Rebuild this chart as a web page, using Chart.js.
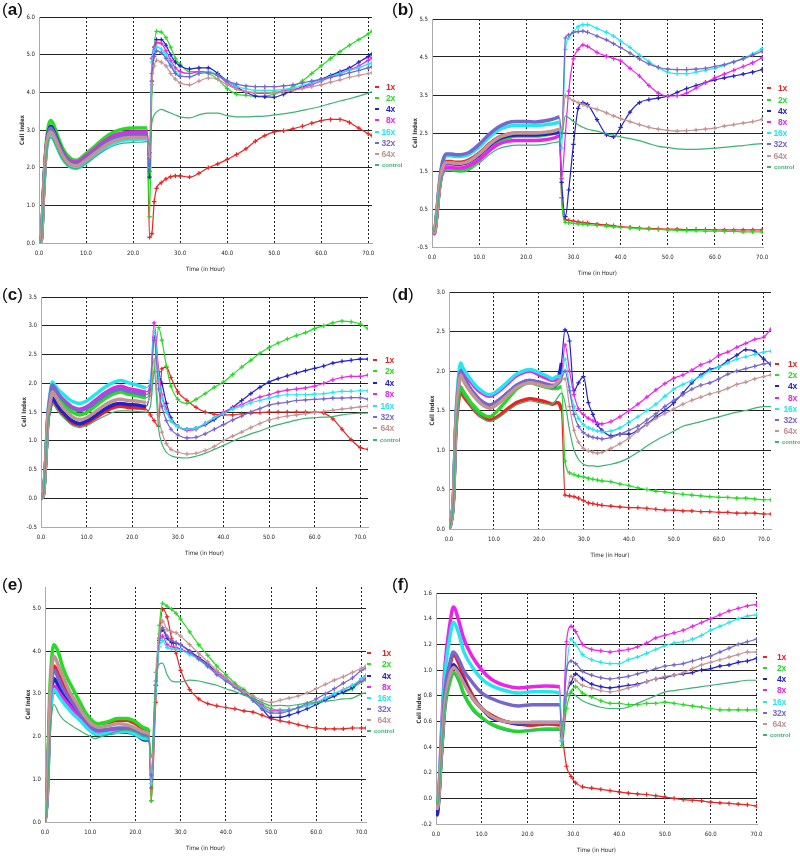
<!DOCTYPE html>
<html lang="en">
<head>
<meta charset="UTF-8">
<title>Cell Index over time</title>
<script src="https://cdn.jsdelivr.net/npm/chart.js"></script>
<style>
  body { margin: 0; background: #fff; width: 800px; height: 858px; position: relative; overflow: hidden; font-family: Arial, "Liberation Sans", sans-serif; }
  canvas { position: absolute; }
  .tag { position: absolute; font-size: 17px; line-height: 20px; color: #111; }
  .item { position: absolute; height: 12px; display: flex; align-items: center; justify-content: space-between; font-weight: bold; font-size: 8.5px; line-height: 12px; letter-spacing: -0.2px; }
  .item i { display: block; width: 4px; height: 2px; flex: none; }
  .item.ctl { justify-content: flex-start; font-size: 6px; letter-spacing: 0; }
  .item.ctl i { margin-right: 3px; }
</style>
</head>
<body>
<script>
const seriesNames = ['1x', '2x', '4x', '8x', '16x', '32x', '64x', 'control'];
const seriesColors = ['#ee2222', '#22dd22', '#2222cc', '#ee22ee', '#22e8ee', '#7766cc', '#c49494', '#3cb371'];

// ---- (a) ----
const timeA = [0,0.5,1,1.5,2,2.5,3,4,5,6,7,8,10,12,14,16,18,20,22,23,
  23.5,24,24.5,25,26,27,28,29,30,32,34,36,38,40,42,44,46,48,50,52,54,56,58,60,62,64,66,68,70,70.8];
const a1x = [0,0.1,1.4,2.45,2.85,2.95,2.88,2.61,2.36,2.2,2.12,2.1,2.25,2.44,2.62,2.76,2.83,2.85,2.85,2.85,
  0.15,0.25,1.1,1.45,1.6,1.7,1.76,1.78,1.78,1.75,1.85,2.0,2.1,2.22,2.35,2.5,2.7,2.85,2.95,2.98,3.03,3.1,3.18,3.25,3.28,3.28,3.2,3.05,2.9,2.85];
const a2x = [0,0.1,1.5,2.6,3.1,3.25,3.17,2.83,2.52,2.33,2.22,2.2,2.37,2.58,2.8,2.95,3.03,3.05,3.05,3.05,
  0.7,4.0,5.2,5.62,5.6,5.45,5.2,4.9,4.75,4.55,4.55,4.5,4.35,4.1,3.95,3.92,3.9,3.9,3.95,4.03,4.15,4.3,4.5,4.7,4.9,5.08,5.25,5.4,5.55,5.62];
const a4x = [0,0.1,1.5,2.5,2.95,3.1,3.02,2.71,2.42,2.24,2.14,2.12,2.28,2.47,2.67,2.81,2.88,2.9,2.9,2.9,
  1.75,4.3,5.0,5.4,5.4,5.25,5.0,4.8,4.7,4.62,4.65,4.65,4.5,4.3,4.15,4.0,3.9,3.88,3.87,3.95,4.05,4.15,4.25,4.35,4.45,4.55,4.65,4.8,4.95,5.02];
const a8x = [0,0.1,1.45,2.45,2.88,3.0,2.93,2.66,2.41,2.25,2.17,2.15,2.31,2.51,2.71,2.86,2.93,2.95,2.95,2.95,
  2.4,4.9,5.2,5.32,5.3,5.1,4.85,4.65,4.55,4.5,4.55,4.55,4.45,4.25,4.1,4.02,3.98,3.97,4.0,4.03,4.08,4.12,4.2,4.3,4.4,4.5,4.6,4.7,4.85,4.92];
const a16x = [0,0.1,1.35,2.35,2.75,2.85,2.78,2.5,2.24,2.08,2.0,1.98,2.13,2.33,2.52,2.66,2.73,2.75,2.76,2.76,
  2.0,4.8,5.1,5.2,5.15,5.0,4.75,4.55,4.45,4.4,4.5,4.55,4.45,4.3,4.15,4.1,4.05,4.05,4.05,4.08,4.12,4.18,4.25,4.33,4.42,4.5,4.58,4.65,4.75,4.78];
const a32x = [0,0.1,1.45,2.5,2.92,3.05,2.97,2.67,2.39,2.21,2.12,2.1,2.26,2.45,2.65,2.79,2.86,2.88,2.88,2.88,
  1.9,4.5,4.95,5.1,5.05,4.9,4.7,4.5,4.42,4.42,4.5,4.52,4.45,4.3,4.22,4.17,4.15,4.15,4.15,4.17,4.2,4.25,4.3,4.35,4.4,4.45,4.52,4.58,4.65,4.68];
const a64x = [0,0.1,1.4,2.45,2.85,2.95,2.88,2.59,2.32,2.15,2.07,2.05,2.2,2.39,2.58,2.71,2.78,2.8,2.8,2.8,
  2.3,4.2,4.7,4.85,4.8,4.7,4.5,4.35,4.25,4.2,4.3,4.38,4.35,4.2,4.08,4.02,4.0,4.0,4.0,4.02,4.05,4.1,4.15,4.2,4.27,4.33,4.4,4.45,4.5,4.52];
const aCtl = [0,0.1,1.3,2.3,2.7,2.8,2.73,2.46,2.22,2.06,1.99,1.97,2.11,2.29,2.46,2.59,2.65,2.67,2.68,2.69,
  2.6,3.2,3.4,3.48,3.55,3.5,3.45,3.4,3.35,3.32,3.4,3.45,3.45,3.38,3.35,3.35,3.36,3.37,3.4,3.43,3.47,3.52,3.57,3.63,3.7,3.77,3.83,3.9,3.98,4.02];

// ---- (b) ----
const timeB = [0,0.5,1,1.5,2,2.5,3,4,5,6,7,8,10,12,14,16,18,20,22,24,26,27,
  27.5,28.3,29,30,31,32,33,35,37,38.5,40,42,44,46,48,50,52,54,56,58,60,62,64,66,68,70];
const b1x = [0,-0.12,0.35,1.0,1.45,1.68,1.75,1.75,1.73,1.73,1.75,1.8,1.97,2.2,2.38,2.47,2.5,2.5,2.5,2.5,2.52,2.55,
  0.8,0.22,0.2,0.18,0.16,0.14,0.13,0.1,0.08,0.06,0.04,0.02,0.0,-0.01,-0.02,-0.03,-0.03,-0.04,-0.04,-0.04,-0.05,-0.05,-0.05,-0.05,-0.05,-0.05];
const b2x = [0,-0.15,0.3,0.95,1.35,1.5,1.55,1.55,1.53,1.52,1.54,1.6,1.78,2.02,2.23,2.36,2.42,2.42,2.42,2.45,2.5,2.55,
  0.8,0.15,0.14,0.12,0.11,0.1,0.09,0.07,0.05,0.03,0.02,0.0,-0.02,-0.03,-0.04,-0.05,-0.06,-0.07,-0.07,-0.08,-0.08,-0.09,-0.09,-0.1,-0.1,-0.1];
const b4x = [0,-0.12,0.35,1.0,1.42,1.63,1.7,1.7,1.68,1.68,1.7,1.75,1.92,2.15,2.33,2.42,2.45,2.45,2.45,2.47,2.5,2.52,
  1.2,0.3,1.0,2.2,3.15,3.3,3.25,2.85,2.45,2.4,2.65,3.05,3.3,3.38,3.42,3.47,3.57,3.67,3.75,3.83,3.9,3.95,4.0,4.05,4.1,4.17];
const b8x = [0,-0.15,0.3,0.95,1.38,1.55,1.6,1.6,1.58,1.58,1.6,1.65,1.8,2.02,2.2,2.28,2.3,2.3,2.3,2.32,2.37,2.42,
  1.3,2.5,3.6,4.45,4.7,4.82,4.78,4.62,4.52,4.46,4.4,4.2,4.0,3.75,3.55,3.47,3.48,3.55,3.68,3.82,3.95,4.05,4.15,4.25,4.35,4.48];
const b16x = [0,-0.1,0.4,1.05,1.55,1.8,1.9,1.9,1.88,1.88,1.9,1.95,2.13,2.37,2.57,2.67,2.7,2.7,2.69,2.72,2.75,2.78,
  2.1,4.7,5.0,5.15,5.3,5.35,5.35,5.25,5.15,5.05,4.92,4.75,4.55,4.38,4.22,4.1,4.06,4.06,4.1,4.15,4.2,4.28,4.37,4.47,4.58,4.72];
const b32x = [0,-0.1,0.4,1.1,1.6,1.85,1.95,1.95,1.93,1.93,1.95,2.0,2.2,2.45,2.65,2.77,2.8,2.8,2.79,2.82,2.88,2.92,
  2.5,5.0,5.08,5.15,5.17,5.18,5.15,5.05,4.95,4.85,4.75,4.6,4.45,4.32,4.23,4.18,4.17,4.17,4.18,4.2,4.25,4.3,4.37,4.45,4.55,4.65];
const b64x = [0,-0.12,0.35,1.0,1.45,1.65,1.72,1.72,1.7,1.7,1.72,1.77,1.95,2.18,2.37,2.46,2.5,2.5,2.5,2.52,2.56,2.6,
  2.6,3.48,3.42,3.35,3.3,3.25,3.2,3.12,3.03,2.95,2.88,2.8,2.72,2.65,2.6,2.57,2.55,2.56,2.58,2.6,2.63,2.68,2.72,2.76,2.8,2.86];
const bCtl = [0,-0.1,0.3,0.9,1.3,1.45,1.5,1.5,1.48,1.47,1.48,1.53,1.7,1.92,2.08,2.15,2.18,2.18,2.18,2.2,2.25,2.28,
  2.4,2.95,2.9,2.8,2.72,2.65,2.6,2.55,2.48,2.44,2.4,2.35,2.3,2.22,2.15,2.12,2.08,2.07,2.07,2.08,2.1,2.12,2.15,2.17,2.2,2.22];

// ---- (c) ----
const timeC = [0,0.5,1,1.5,2,2.5,3,4,5,6,7,8.5,10,12,14,16,17.5,19,21,23,
  24,24.8,25.8,26.5,27.5,28.5,30,32,34,36,38,40,42,44,46,48,50,52,54,56,58,60,62,64,66,68,70,71.7];
const c1x = [0,0.05,0.6,1.33,1.55,1.7,1.65,1.53,1.44,1.36,1.3,1.27,1.3,1.4,1.5,1.58,1.6,1.58,1.57,1.55,
  1.45,1.35,1.25,2.25,2.28,2.1,1.85,1.7,1.58,1.5,1.46,1.45,1.45,1.47,1.48,1.49,1.5,1.5,1.5,1.5,1.5,1.5,1.48,1.38,1.2,1.02,0.88,0.85];
const c2x = [0,0.05,0.6,1.4,1.7,1.9,1.85,1.72,1.63,1.55,1.49,1.45,1.49,1.61,1.73,1.82,1.85,1.81,1.78,1.75,
  1.85,2.2,2.97,2.75,2.3,1.95,1.72,1.65,1.72,1.82,1.93,2.02,2.15,2.28,2.4,2.52,2.62,2.7,2.77,2.83,2.88,2.95,3.0,3.05,3.08,3.07,3.03,2.95];
const c4x = [0,0.05,0.6,1.35,1.58,1.75,1.7,1.57,1.48,1.4,1.34,1.3,1.34,1.44,1.55,1.63,1.65,1.63,1.62,1.6,
  1.9,2.8,2.2,2.0,1.65,1.4,1.25,1.2,1.22,1.28,1.37,1.47,1.58,1.7,1.82,1.93,2.02,2.08,2.13,2.18,2.22,2.26,2.3,2.35,2.38,2.4,2.42,2.42];
const c8x = [0,0.05,0.6,1.42,1.75,1.95,1.9,1.79,1.71,1.64,1.58,1.55,1.59,1.71,1.83,1.92,1.95,1.91,1.88,1.85,
  2.0,3.05,2.2,1.8,1.55,1.35,1.25,1.18,1.2,1.3,1.4,1.5,1.57,1.63,1.7,1.76,1.8,1.85,1.88,1.9,1.92,1.95,2.0,2.06,2.1,2.12,2.12,2.14];
const c16x = [0,0.05,0.6,1.45,1.82,2.02,1.97,1.87,1.8,1.73,1.68,1.65,1.69,1.81,1.93,2.02,2.05,2.01,1.97,1.92,
  2.05,2.9,2.1,1.75,1.5,1.35,1.25,1.2,1.22,1.3,1.4,1.47,1.55,1.6,1.66,1.7,1.74,1.78,1.8,1.8,1.8,1.81,1.82,1.84,1.86,1.86,1.87,1.87];
const c32x = [0,0.05,0.6,1.42,1.77,1.97,1.92,1.79,1.7,1.62,1.56,1.52,1.56,1.67,1.79,1.87,1.9,1.86,1.83,1.8,
  1.95,2.75,1.9,1.6,1.35,1.2,1.1,1.05,1.06,1.12,1.2,1.28,1.36,1.43,1.5,1.56,1.62,1.65,1.67,1.7,1.71,1.72,1.73,1.74,1.74,1.75,1.75,1.72];
const c64x = [0,0.05,0.6,1.38,1.65,1.85,1.8,1.66,1.56,1.48,1.41,1.37,1.4,1.51,1.62,1.7,1.72,1.7,1.69,1.67,
  1.8,2.4,1.45,1.15,0.95,0.85,0.8,0.77,0.78,0.83,0.9,1.0,1.08,1.15,1.23,1.3,1.36,1.4,1.43,1.45,1.47,1.49,1.51,1.53,1.55,1.57,1.59,1.6];
const cCtl = [0,0.05,0.6,1.3,1.5,1.65,1.6,1.48,1.4,1.32,1.26,1.23,1.26,1.35,1.43,1.5,1.52,1.52,1.51,1.5,
  1.6,2.2,1.2,0.95,0.8,0.74,0.71,0.7,0.73,0.78,0.85,0.92,0.99,1.06,1.12,1.17,1.23,1.28,1.32,1.36,1.39,1.4,1.41,1.42,1.45,1.47,1.48,1.48];

// ---- (d) ----
const timeD = [0,0.5,1,1.5,2,2.6,3,4,5,6,7,9,11,13,15,17,18,20,22,23,24,25,
  25.8,26.8,27.8,28.8,29.9,31,32,33,34,36,38,40,42,44,46,48,50,52,54,56,58,60,62,64,66,68,70,71.6];
const d1x = [0,0.1,0.35,1.2,1.55,1.75,1.7,1.62,1.55,1.48,1.43,1.38,1.43,1.52,1.6,1.64,1.65,1.63,1.6,1.58,1.6,1.5,
  0.43,0.42,0.41,0.39,0.36,0.33,0.32,0.31,0.3,0.29,0.28,0.27,0.27,0.26,0.25,0.24,0.24,0.23,0.23,0.22,0.22,0.21,0.21,0.2,0.2,0.2,0.19,0.19];
const d2x = [0,0.1,0.4,1.25,1.6,1.8,1.76,1.67,1.59,1.53,1.47,1.42,1.51,1.64,1.77,1.84,1.85,1.82,1.79,1.78,1.78,1.8,
  0.86,0.71,0.69,0.67,0.66,0.64,0.63,0.62,0.61,0.6,0.57,0.55,0.52,0.5,0.48,0.47,0.45,0.44,0.43,0.42,0.41,0.4,0.4,0.39,0.39,0.38,0.37,0.37];
const d4x = [0,0.1,0.4,1.3,1.73,1.98,1.93,1.83,1.75,1.68,1.62,1.56,1.62,1.72,1.81,1.87,1.88,1.85,1.82,1.8,1.85,2.1,
  2.52,2.38,1.75,1.85,1.93,1.6,1.45,1.32,1.25,1.18,1.2,1.2,1.25,1.33,1.42,1.5,1.6,1.72,1.85,1.95,2.02,2.05,2.13,2.2,2.27,2.25,2.15,2.08];
const d8x = [0,0.1,0.4,1.33,1.8,2.05,2.0,1.92,1.85,1.78,1.73,1.68,1.74,1.84,1.94,1.99,2.0,1.95,1.9,1.88,1.9,1.95,
  2.33,2.0,1.7,1.52,1.45,1.4,1.37,1.34,1.33,1.36,1.42,1.5,1.58,1.67,1.76,1.84,1.91,1.95,2.01,2.08,2.12,2.2,2.24,2.3,2.35,2.4,2.43,2.53];
const d16x = [0,0.1,0.4,1.35,1.85,2.1,2.05,1.96,1.88,1.81,1.76,1.7,1.76,1.86,1.96,2.01,2.02,1.98,1.93,1.9,1.93,1.94,
  2.15,1.8,1.55,1.4,1.32,1.28,1.26,1.24,1.23,1.24,1.28,1.35,1.42,1.5,1.58,1.68,1.77,1.83,1.88,1.93,2.0,2.05,2.1,2.15,2.18,2.21,2.24,2.25];
const d32x = [0,0.1,0.4,1.3,1.75,2.0,1.95,1.85,1.76,1.69,1.63,1.57,1.63,1.72,1.82,1.87,1.88,1.86,1.83,1.82,1.83,1.9,
  2.0,1.75,1.45,1.3,1.22,1.18,1.16,1.15,1.14,1.16,1.2,1.25,1.3,1.38,1.46,1.55,1.63,1.7,1.77,1.82,1.85,1.9,1.96,2.0,2.03,2.06,2.09,2.1];
const d64x = [0,0.1,0.4,1.28,1.7,1.95,1.9,1.8,1.72,1.65,1.59,1.53,1.59,1.69,1.79,1.84,1.85,1.83,1.8,1.8,1.85,1.9,
  1.9,1.55,1.25,1.1,1.02,0.99,0.97,0.96,0.97,1.02,1.08,1.15,1.24,1.32,1.4,1.46,1.52,1.58,1.63,1.67,1.71,1.74,1.78,1.83,1.86,1.9,1.93,1.95];
const dCtl = [0,0.1,0.35,1.2,1.55,1.78,1.72,1.63,1.55,1.48,1.42,1.36,1.41,1.49,1.57,1.61,1.62,1.6,1.58,1.58,1.65,1.72,
  1.6,1.25,1.0,0.88,0.82,0.8,0.8,0.79,0.8,0.82,0.85,0.9,0.97,1.05,1.12,1.18,1.24,1.3,1.33,1.36,1.39,1.42,1.45,1.48,1.5,1.53,1.55,1.55];

// ---- (e) ----
const timeE = [0,0.5,1,1.5,2,3,4,5,6,7,8,9,10,11,12,14,16,18,20,22,23,
  23.5,24.5,25.3,26,27,28,29,30,32,34,36,38,40,42,44,46,48,50,52,54,56,58,60,62,64,66,68,70,71];
const e1x = [0,0.7,2.5,3.4,3.65,3.45,3.22,3.02,2.85,2.7,2.55,2.42,2.3,2.28,2.3,2.33,2.38,2.38,2.3,2.18,2.1,
  0.5,2.8,4.3,4.98,4.8,4.3,3.95,3.55,3.1,2.88,2.77,2.72,2.68,2.65,2.6,2.57,2.5,2.42,2.37,2.33,2.28,2.23,2.2,2.18,2.18,2.18,2.2,2.2,2.2];
const e2x = [0,0.8,2.9,3.85,4.15,3.95,3.6,3.35,3.15,2.95,2.75,2.55,2.42,2.32,2.3,2.35,2.42,2.42,2.35,2.2,2.12,
  0.5,3.2,4.6,5.12,5.05,4.98,4.88,4.75,4.45,4.15,3.9,3.65,3.45,3.25,3.1,2.93,2.75,2.65,2.62,2.63,2.67,2.72,2.8,2.88,2.95,3.03,3.12,3.28,3.32];
const e4x = [0,0.6,2.3,3.1,3.35,3.18,3.0,2.85,2.7,2.56,2.42,2.28,2.15,2.07,2.05,2.07,2.1,2.1,2.05,1.92,1.92,
  1.0,3.2,4.25,4.5,4.3,4.2,4.18,4.15,4.0,3.85,3.7,3.5,3.35,3.2,3.05,2.85,2.65,2.45,2.45,2.5,2.57,2.65,2.75,2.85,2.95,3.05,3.15,3.35,3.42];
const e8x = [0,0.6,2.2,2.95,3.18,3.05,2.9,2.77,2.65,2.52,2.4,2.28,2.17,2.1,2.08,2.12,2.17,2.15,2.1,2.0,1.97,
  0.8,3.0,4.2,4.35,4.15,4.1,4.08,4.05,3.95,3.82,3.65,3.5,3.35,3.18,3.02,2.88,2.72,2.6,2.6,2.62,2.67,2.73,2.8,2.9,3.0,3.1,3.2,3.3,3.35];
const e16x = [0,0.6,2.15,2.9,3.1,2.95,2.8,2.67,2.55,2.45,2.35,2.23,2.13,2.06,2.05,2.08,2.1,2.12,2.05,1.95,1.95,
  0.9,3.0,4.1,4.25,4.08,4.05,4.04,4.02,3.92,3.8,3.63,3.47,3.32,3.15,3.0,2.85,2.68,2.58,2.58,2.62,2.67,2.73,2.8,2.9,3.0,3.1,3.2,3.35,3.42];
const e32x = [0,0.7,2.45,3.3,3.55,3.35,3.12,2.95,2.8,2.65,2.5,2.37,2.25,2.17,2.15,2.17,2.2,2.2,2.15,2.05,2.0,
  1.1,3.3,4.3,4.55,4.35,4.25,4.2,4.15,3.98,3.82,3.65,3.45,3.3,3.15,3.0,2.85,2.65,2.55,2.55,2.6,2.68,2.78,2.88,3.0,3.12,3.25,3.37,3.55,3.6];
const e64x = [0,0.7,2.6,3.6,3.88,3.65,3.4,3.15,2.95,2.78,2.6,2.45,2.32,2.25,2.22,2.25,2.3,2.28,2.2,2.1,2.05,
  1.2,3.5,4.4,4.7,4.5,4.45,4.43,4.35,4.15,3.95,3.75,3.55,3.38,3.2,3.05,2.95,2.85,2.8,2.85,2.9,2.95,3.02,3.12,3.22,3.32,3.4,3.5,3.6,3.65];
const eCtl = [0,0.5,1.9,2.55,2.75,2.55,2.4,2.32,2.25,2.18,2.12,2.06,2.0,1.95,1.98,2.05,2.12,2.15,2.1,2.0,1.95,
  1.5,3.3,3.7,3.72,3.45,3.3,3.28,3.28,3.32,3.3,3.25,3.2,3.12,3.05,2.97,2.9,2.8,2.72,2.73,2.72,2.75,2.78,2.8,2.82,2.85,2.88,2.9,3.0,3.02];

// ---- (f) ----
const timeF = [0,0.3,0.7,1,1.5,2,3,3.8,5,6,8,10,12,15,18,21,24,27,
  27.5,28.5,29.5,30.5,32,34,36,38,40,42,44,46,48,50,52,54,56,58,60,62,64,66,68,70];
const f1x = [0,-0.08,0.05,0.25,0.55,0.8,1.02,1.12,1.05,0.95,0.8,0.7,0.65,0.6,0.58,0.57,0.58,0.57,
  0.5,0.25,0.17,0.12,0.09,0.08,0.07,0.06,0.05,0.04,0.035,0.03,0.02,0.01,0.0,-0.01,-0.015,-0.02,-0.03,-0.035,-0.04,-0.045,-0.05,-0.06];
const f2x = [0,-0.08,0.03,0.22,0.5,0.72,0.9,0.98,0.92,0.82,0.7,0.63,0.58,0.54,0.52,0.53,0.54,0.54,
  0.41,0.7,0.83,0.87,0.82,0.79,0.76,0.74,0.74,0.73,0.73,0.74,0.74,0.75,0.74,0.73,0.72,0.71,0.7,0.69,0.69,0.69,0.69,0.69];
const f4x = [0,-0.13,0.05,0.25,0.52,0.76,0.97,1.04,0.98,0.92,0.78,0.7,0.63,0.6,0.58,0.59,0.59,0.59,
  0.45,0.8,0.9,0.97,0.93,0.89,0.87,0.86,0.87,0.88,0.89,0.91,0.93,0.94,0.96,0.97,0.98,1.0,1.01,1.03,1.04,1.06,1.07,1.09];
const f8x = [0,-0.05,0.1,0.35,0.75,1.05,1.35,1.49,1.38,1.25,1.1,1.0,0.93,0.88,0.86,0.87,0.875,0.87,
  0.45,1.22,1.34,1.3,1.2,1.16,1.15,1.14,1.15,1.16,1.18,1.21,1.25,1.27,1.29,1.31,1.34,1.37,1.4,1.43,1.46,1.48,1.5,1.51];
const f16x = [0,-0.05,0.1,0.33,0.7,0.98,1.25,1.37,1.28,1.15,1.02,0.93,0.88,0.84,0.82,0.83,0.83,0.82,
  0.45,1.0,1.24,1.2,1.12,1.08,1.06,1.05,1.05,1.08,1.1,1.13,1.16,1.19,1.21,1.22,1.24,1.27,1.31,1.34,1.37,1.4,1.42,1.43];
const f32x = [0,-0.08,0.08,0.28,0.6,0.85,1.05,1.14,1.08,1.0,0.9,0.82,0.78,0.74,0.72,0.73,0.73,0.73,
  0.48,1.0,1.07,1.05,0.99,0.96,0.94,0.93,0.94,0.95,0.97,0.99,1.01,1.03,1.04,1.05,1.07,1.09,1.11,1.14,1.17,1.2,1.22,1.24];
const f64x = [0,-0.08,0.05,0.25,0.52,0.75,0.95,1.02,0.97,0.9,0.78,0.7,0.64,0.6,0.59,0.59,0.59,0.59,
  0.47,0.8,0.95,0.92,0.88,0.86,0.84,0.83,0.84,0.86,0.88,0.91,0.93,0.95,0.96,0.98,1.01,1.04,1.06,1.08,1.1,1.12,1.14,1.14];
const fCtl = [0,-0.05,0.03,0.22,0.5,0.72,0.9,0.97,0.9,0.8,0.68,0.62,0.57,0.53,0.52,0.53,0.53,0.53,
  0.55,0.8,0.82,0.8,0.76,0.73,0.71,0.7,0.7,0.71,0.74,0.77,0.8,0.83,0.84,0.85,0.86,0.87,0.88,0.89,0.9,0.91,0.92,0.92];

// tick values on the time axis (same for every panel)
const timeTicks = [0, 10, 20, 30, 40, 50, 60, 70];

// layout of the six panels (plot box = left, top, right, bottom in page px)
const panels = [
  { tag: 'a', times: timeA, series: [a1x, a2x, a4x, a8x, a16x, a32x, a64x, aCtl],
    box: [39, 17, 372, 243], xMax: 70.8, yMin: 0, yMax: 6, yStep: 1, yTop: 6, cut: 23.2,
    legend: [375, 395, 86.7, 11.2], tagAt: [2, 0] },
  { tag: 'b', times: timeB, series: [b1x, b2x, b4x, b8x, b16x, b32x, b64x, bCtl],
    box: [432, 19, 763, 247], xMax: 70.2, yMin: -0.5, yMax: 5.5, yStep: 1, yTop: 5.5, cut: 27.2,
    legend: [767, 787, 88.3, 11.2], tagAt: [392, 0] },
  { tag: 'c', times: timeC, series: [c1x, c2x, c4x, c8x, c16x, c32x, c64x, cCtl],
    box: [41, 297, 368, 527], xMax: 71.7, yMin: -0.5, yMax: 3.5, yStep: 0.5, yTop: 3.5, cut: 23.5,
    legend: [373, 394, 360, 11.4], tagAt: [2, 285] },
  { tag: 'd', times: timeD, series: [d1x, d2x, d4x, d8x, d16x, d32x, d64x, dCtl],
    box: [449, 292, 771, 529], xMax: 71.6, yMin: 0, yMax: 3, yStep: 0.5, yTop: 3, cut: 25.2,
    legend: [775, 797, 364, 11.2], tagAt: [392, 285] },
  { tag: 'e', times: timeE, series: [e1x, e2x, e4x, e8x, e16x, e32x, e64x, eCtl],
    box: [45, 587, 366, 822], xMax: 71, yMin: 0, yMax: 5.5, yStep: 1, yTop: 5, cut: 23.2,
    legend: [367, 391, 653.3, 11.1], tagAt: [2, 575] },
  { tag: 'f', times: timeF, series: [f1x, f2x, f4x, f8x, f16x, f32x, f64x, fCtl],
    box: [436, 593, 757, 824], xMax: 70.1, yMin: -0.2, yMax: 1.6, yStep: 0.2, yTop: 1.6, cut: 27.2,
    legend: [763, 786, 656.7, 11.2], tagAt: [392, 575] }
];

const PAD_L = 36, PAD_T = 8, PAD_R = 18, AX_H = 32;
const smallFont = { family: "'Liberation Sans Narrow', 'Arial Narrow', 'DejaVu Sans Condensed', sans-serif", size: 6 };

function yTickValues(p) {
  const out = [];
  const n = Math.round((p.yTop - p.yMin) / p.yStep);
  for (let k = 0; k <= n; k++) out.push(+(p.yMin + k * p.yStep).toFixed(2));
  return out;
}

function makeChart(p) {
  const [L, T, R, B] = p.box;
  const cv = document.createElement('canvas');
  cv.width = R - L + PAD_L + PAD_R;
  cv.height = B - T + PAD_T + AX_H;
  cv.style.left = (L - PAD_L) + 'px';
  cv.style.top = (T - PAD_T) + 'px';
  document.body.appendChild(cv);

  const datasets = p.series.map((vals, i) => {
    const ctl = i === 7;
    return {
      label: seriesNames[i],
      data: vals.map((y, k) => ({ x: p.times[k], y: y })),
      borderColor: seriesColors[i],
      backgroundColor: seriesColors[i],
      borderWidth: 1.2,
      pointStyle: 'cross',
      pointRadius: ctl ? 0 : c => (c.raw && c.raw.x > p.cut ? 2.2 : 0),
      pointBorderWidth: 1.2,
      cubicInterpolationMode: 'monotone',
      segment: ctl ? {} : { borderWidth: c => (c.p1.parsed.x <= p.cut ? 3.5 : 1.2) },
      order: 7 - i,
      fill: false
    };
  });

  const yTicks = yTickValues(p);

  new Chart(cv, {
    type: 'line',
    data: { datasets },
    options: {
      responsive: false,
      animation: false,
      events: [],
      layout: { padding: { top: PAD_T, right: PAD_R, left: 0, bottom: 0 } },
      plugins: { legend: { display: false }, tooltip: { enabled: false } },
      scales: {
        x: {
          type: 'linear', min: 0, max: p.xMax,
          afterFit: s => { s.height = AX_H; },
          afterBuildTicks: s => { s.ticks = timeTicks.map(v => ({ value: v })); },
          ticks: { autoSkip: false, maxRotation: 0, padding: 7,
                   font: smallFont, color: '#222', callback: v => v.toFixed(1) },
          grid: { color: c => (c.tick && c.tick.value === 0 ? 'rgba(0,0,0,0)' : '#222'), lineWidth: 1, drawTicks: false },
          border: { color: '#aaa', width: 1, dash: [2, 2] },
          title: { display: true, text: 'Time (in Hour)', font: smallFont, color: '#222', padding: { top: 0, bottom: 2 } }
        },
        y: {
          min: p.yMin, max: p.yMax,
          afterFit: s => { s.width = PAD_L; },
          afterBuildTicks: s => { s.ticks = yTicks.map(v => ({ value: v })); },
          ticks: { padding: 4, font: smallFont, color: '#222', callback: v => v.toFixed(1) },
          grid: { color: c => (c.tick && Math.abs(c.tick.value - p.yMin) < 1e-6 ? '#aaa' : '#222'), lineWidth: 1, drawTicks: false },
          border: { color: '#aaa', width: 1 },
          title: { display: true, text: 'Cell Index', font: Object.assign({}, smallFont, { weight: 'bold' }),
                   color: '#333', padding: { top: 16, bottom: 0 } }
        }
      }
    }
  });
}

function makeLegend(p) {
  const [dx, tr, y0, step] = p.legend;
  seriesNames.forEach((name, i) => {
    const it = document.createElement('div');
    it.className = 'item' + (i === 7 ? ' ctl' : '');
    it.style.left = dx + 'px';
    it.style.top = (y0 + i * step - 6) + 'px';
    if (i !== 7) it.style.width = (tr - dx) + 'px';
    it.style.color = seriesColors[i];
    it.innerHTML = '<i style="background:' + seriesColors[i] + '"></i><span>' + name + '</span>';
    document.body.appendChild(it);
  });
}

function makeTag(p) {
  const t = document.createElement('div');
  t.className = 'tag';
  t.style.left = p.tagAt[0] + 'px';
  t.style.top = p.tagAt[1] + 'px';
  t.innerHTML = '(<b>' + p.tag + '</b>)';
  document.body.appendChild(t);
}

panels.forEach(p => { makeChart(p); makeLegend(p); makeTag(p); });
</script>
</body>
</html>
